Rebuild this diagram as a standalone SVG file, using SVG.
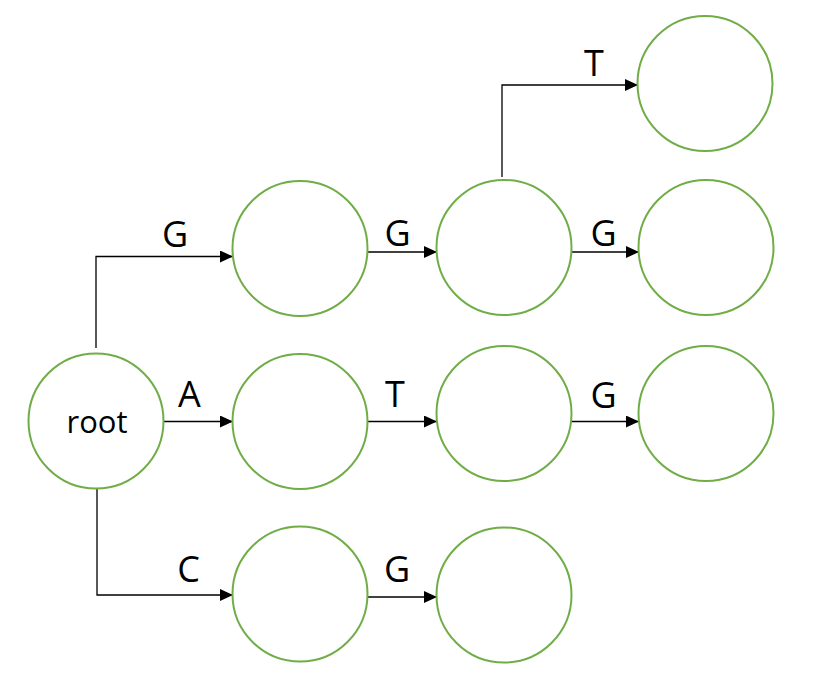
<svg xmlns="http://www.w3.org/2000/svg" width="817" height="697" viewBox="0 0 817 697">
<style>
.n{fill:#fff;stroke:#70AD47;stroke-width:2}
.e{fill:none;stroke:#000;stroke-width:1.3;marker-end:url(#ah)}
.l{font-family:"Open Sans","Noto Sans",sans-serif;font-size:36px;fill:#000;text-anchor:middle}
.r{font-family:"Open Sans","Noto Sans",sans-serif;font-size:31px;fill:#000;text-anchor:middle}
</style>
<defs>
<marker id="ah" markerWidth="13" markerHeight="12" refX="13" refY="6" orient="auto" markerUnits="userSpaceOnUse">
<path d="M0,0 L13,6 L0,12 Z" fill="#000"/>
</marker>
</defs>
<rect width="817" height="697" fill="#fff"/>
<g id="connectors">
<path class="e" d="M96,348 V256.5 H233"/>
<path class="e" d="M163,421.5 H233"/>
<path class="e" d="M97,489 V595 H233"/>
<path class="e" d="M367,252 H437"/>
<path class="e" d="M367,421.5 H437"/>
<path class="e" d="M367,597 H437"/>
<path class="e" d="M502,177 V85 H638"/>
<path class="e" d="M571,252 H639"/>
<path class="e" d="M571,421.5 H639"/>
</g>
<g id="labels">
<text class="l" x="175" y="247">G</text>
<text class="l" x="397.5" y="246">G</text>
<text class="l" x="603.5" y="246">G</text>
<text class="l" x="594" y="76">T</text>
<text class="l" x="189.5" y="407">A</text>
<text class="l" x="395" y="407">T</text>
<text class="l" x="603.5" y="408">G</text>
<text class="l" x="188.5" y="582">C</text>
<text class="l" x="397" y="582">G</text>
</g>
<g id="root"><circle class="n" cx="96" cy="421" r="67.5"/><text class="r" x="97" y="433">root</text></g>
<g id="n_g"><circle class="n" cx="300" cy="248.5" r="67.5"/></g>
<g id="n_a"><circle class="n" cx="300" cy="421.5" r="67.5"/></g>
<g id="n_c"><circle class="n" cx="300" cy="594" r="67.5"/></g>
<g id="n_gg"><circle class="n" cx="504" cy="247.5" r="67.5"/></g>
<g id="n_at"><circle class="n" cx="504" cy="413.5" r="67.5"/></g>
<g id="n_cg"><circle class="n" cx="504" cy="595" r="67.5"/></g>
<g id="n_ggt"><circle class="n" cx="705" cy="83.5" r="67.5"/></g>
<g id="n_ggg"><circle class="n" cx="706" cy="247.5" r="67.5"/></g>
<g id="n_atg"><circle class="n" cx="706" cy="413.5" r="67.5"/></g>
</svg>
